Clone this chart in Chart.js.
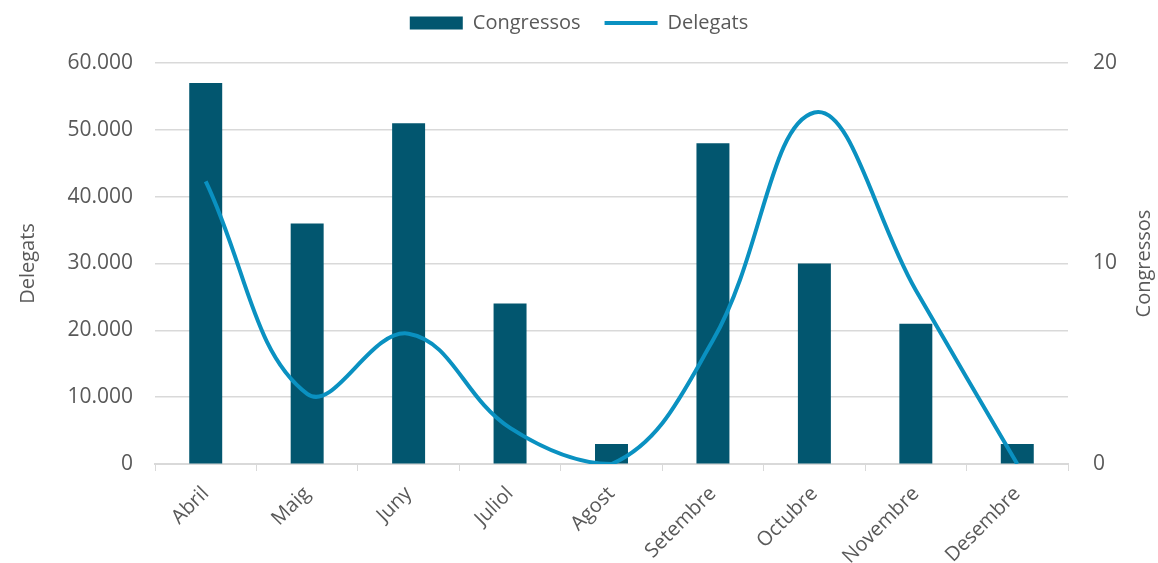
<!DOCTYPE html>
<html>
<head>
<meta charset="utf-8">
<script src="https://cdn.jsdelivr.net/npm/chart.js@4"></script>
<style>
    body { margin: 0; background: #fff; }
    #wrap { width: 1158px; height: 563px; }
</style>
</head>
<body>
<div id="wrap"><canvas id="myChart"></canvas></div>
<script>
// data
let months = ['Abril', 'Maig', 'Juny', 'Juliol', 'Agost', 'Setembre', 'Octubre', 'Novembre', 'Desembre'];
let congressos = [19, 12, 17, 8, 1, 16, 10, 7, 1];
let delegats = [42300, 10500, 19500, 5400, 0, 18500, 52600, 26000, 0];

let textColor = '#595959';
let gridColor = '#d9d9d9';
let font = { family: "'Open Sans', sans-serif", size: 20 };
let tickFont = { family: "'Open Sans', sans-serif", size: 21 };

//thousands with a dot
function formatNum(v) {
    return String(v).replace(/\B(?=(\d{3})+(?!\d))/g, '.');
}

//right axis title reads bottom to top like the left one
let rightTitle = {
    id: 'rightTitle',
    afterDraw(chart) {
        const s = chart.scales.y1;
        const ctx = chart.ctx;
        ctx.save();
        ctx.translate(s.right - 14, (chart.chartArea.top + chart.chartArea.bottom) / 2);
        ctx.rotate(-Math.PI / 2);
        ctx.fillStyle = textColor;
        ctx.font = "20px 'Open Sans', sans-serif";
        ctx.textAlign = 'center';
        ctx.textBaseline = 'middle';
        ctx.fillText('Congressos', 0, 0);
        ctx.restore();
    }
};

new Chart(document.getElementById('myChart'), {
    type: 'bar',
    data: {
        labels: months,
        datasets: [{
            type: 'bar',
            label: 'Congressos',
            data: congressos,
            yAxisID: 'y1',
            backgroundColor: '#02566f',
            borderWidth: 0,
            barPercentage: 0.325,
            categoryPercentage: 1,
            pointStyle: 'rect',
            order: 1
        }, {
            type: 'line',
            label: 'Delegats',
            data: delegats,
            yAxisID: 'y',
            borderColor: '#0a91c1',
            backgroundColor: '#0a91c1',
            borderWidth: 4,
            pointRadius: 0,
            tension: 0.4,
            pointStyle: 'line',
            order: 0
        }]
    },
    options: {
        responsive: true,
        maintainAspectRatio: false,
        animation: false,
        layout: { padding: { top: -11, right: 0, left: 0, bottom: 0 } },
        plugins: {
            legend: {
                position: 'top',
                labels: {
                    color: textColor,
                    font: font,
                    usePointStyle: true,
                    pointStyleWidth: 53,
                    boxHeight: 13,
                    padding: 24,
                    sort: (a, b) => a.datasetIndex - b.datasetIndex
                }
            },
            //empty spacer between legend and plot
            title: {
                display: true,
                text: '',
                weight: 500,
                font: { size: 1, lineHeight: 1 },
                padding: { top: 0, bottom: 19 }
            },
            tooltip: { enabled: false }
        },
        scales: {
            x: {
                grid: {
                    offset: true,
                    drawOnChartArea: false,
                    color: gridColor,
                    tickLength: 7
                },
                border: { color: gridColor, width: 2 },
                ticks: {
                    color: textColor,
                    font: font,
                    padding: 11,
                    minRotation: 45,
                    maxRotation: 45,
                    autoSkip: false
                },
                afterFit: (s) => { s.height = 99; }
            },
            y: {
                position: 'left',
                min: 0,
                max: 60000,
                ticks: {
                    stepSize: 10000,
                    color: textColor,
                    font: tickFont,
                    padding: 22,
                    callback: (v) => formatNum(v)
                },
                grid: { color: gridColor, lineWidth: 1.5, drawTicks: false },
                border: { display: false },
                title: { display: true, text: 'Delegats', color: textColor, font: font, padding: { top: 16, bottom: 0 } },
                afterFit: (s) => { s.width = 155; }
            },
            y1: {
                position: 'right',
                min: 0,
                max: 20,
                ticks: {
                    stepSize: 10,
                    color: textColor,
                    font: tickFont,
                    padding: 25
                },
                grid: { drawOnChartArea: false, drawTicks: false },
                border: { display: false },
                afterFit: (s) => { s.width = 90; }
            }
        }
    },
    plugins: [rightTitle]
});
</script>
</body>
</html>
